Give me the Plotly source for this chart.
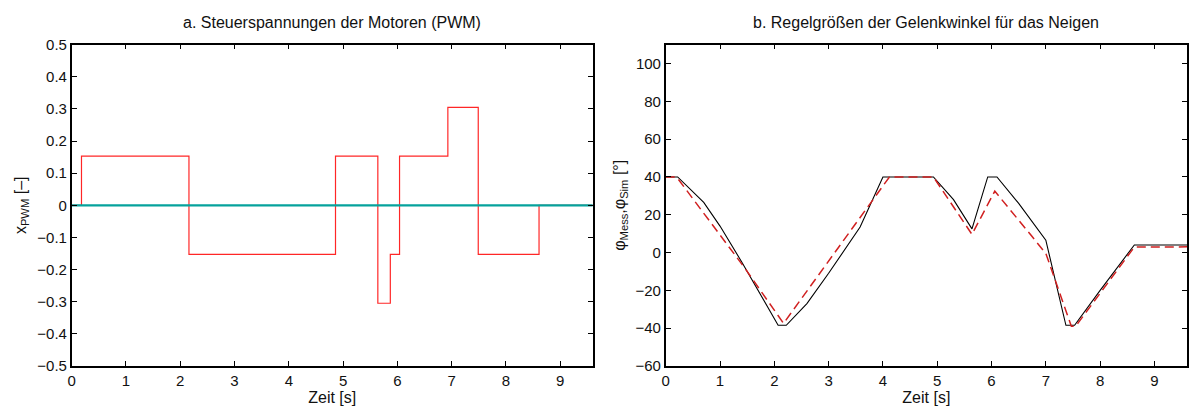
import plotly.graph_objects as go

# --- a. PWM control voltages (step signal) ---
pwm_t = [0.0, 0.18, 2.16, 4.86, 5.64, 5.87, 6.04, 6.93, 7.49, 8.61, 9.6]
pwm_v = [0.0, 0.153, -0.153, 0.153, -0.305, -0.153, 0.153, 0.305, -0.153, 0.0, 0.0]
zero_t = [0.0, 9.6]
zero_v = [0.0, 0.0]

# --- b. joint angle, measured (solid) and simulated (dashed) ---
mess_t = [0.0, 0.22, 0.7, 1.0, 1.4, 1.85, 2.07, 2.22, 2.6, 3.0, 3.58, 4.0, 4.93, 5.3,
          5.64, 5.93, 6.1, 6.5, 7.0, 7.37, 7.53, 8.0, 8.63, 9.6]
mess_v = [40, 40, 26.5, 14, -5, -27.5, -38.5, -38.5, -27, -11, 13.5, 40, 40, 28,
          12.5, 40, 40, 26, 6.5, -38.5, -38.5, -20, 4, 4]
sim_t = [0.0, 0.2, 1.45, 2.17, 4.12, 4.93, 5.64, 6.06, 6.74, 7.0, 7.47, 7.55, 8.63, 9.6]
sim_v = [40, 40, -8, -37.5, 40, 40, 9.6, 32.5, 8.7, -0.5, -39, -39, 2.9, 3]

x_ticks = list(range(0, 10))
y1_ticks = [round(-0.5 + 0.1 * i, 1) for i in range(11)]
y1_text = [("0" if v == 0 else f"{v:.1f}".replace("-", "\u2212")) for v in y1_ticks]
y2_ticks = list(range(-60, 101, 20))
y2_text = [str(v).replace("-", "\u2212") for v in y2_ticks]

FONT = "Liberation Sans, Arial, sans-serif"
TICK_SIZE = 15
LABEL_SIZE = 16

fig = go.Figure()
fig.add_trace(go.Scatter(x=pwm_t, y=pwm_v, mode="lines", line_shape="hv",
                         line=dict(color="rgba(255,0,0,0.85)", width=1.2),
                         xaxis="x", yaxis="y", showlegend=False))
fig.add_trace(go.Scatter(x=zero_t, y=zero_v, mode="lines",
                         line=dict(color="#06a29c", width=2.2),
                         xaxis="x", yaxis="y", showlegend=False))
fig.add_trace(go.Scatter(x=mess_t, y=mess_v, mode="lines",
                         line=dict(color="black", width=1.1),
                         xaxis="x2", yaxis="y2", showlegend=False))
fig.add_trace(go.Scatter(x=sim_t, y=sim_v, mode="lines",
                         line=dict(color="#d02020", width=1.5, dash="9px,5px"),
                         xaxis="x2", yaxis="y2", showlegend=False))

axis_common = dict(showline=True, linecolor="black", linewidth=1.6, mirror="ticks",
                   ticks="inside", ticklen=5, tickcolor="black", tickwidth=1,
                   showgrid=False, zeroline=False,
                   tickfont=dict(family=FONT, size=TICK_SIZE, color="#111"))

fig.update_layout(
    width=1192, height=418,
    paper_bgcolor="white", plot_bgcolor="white",
    margin=dict(l=0, r=0, t=0, b=0),
    font=dict(family=FONT, size=TICK_SIZE, color="#111"),
    xaxis=dict(domain=[0.057, 0.4956], range=[0, 9.6], tickvals=x_ticks,
               title=dict(text="Zeit [s]", standoff=3, font=dict(size=LABEL_SIZE)),
               anchor="y", **axis_common),
    yaxis=dict(domain=[0.11, 0.911], range=[-0.5, 0.5], tickvals=y1_ticks, ticktext=y1_text,
               title=dict(text="x<sub>PWM</sub> [\u2013]", standoff=7, font=dict(size=LABEL_SIZE)),
               anchor="x", **axis_common),
    xaxis2=dict(domain=[0.557, 0.9958], range=[0, 9.6], tickvals=x_ticks,
                title=dict(text="Zeit [s]", standoff=3, font=dict(size=LABEL_SIZE)),
                anchor="y2", **axis_common),
    yaxis2=dict(domain=[0.11, 0.911], range=[-60, 110], tickvals=y2_ticks, ticktext=y2_text,
                title=dict(text="\u03c6<sub>Mess</sub>,\u03c6<sub>Sim</sub> [\u00b0]", standoff=6,
                           font=dict(size=LABEL_SIZE)),
                anchor="x2", **axis_common),
    annotations=[
        dict(text="a. Steuerspannungen der Motoren (PWM)", xref="paper", yref="paper",
             x=(0.057 + 0.4956) / 2, y=1 - 14 / 418, xanchor="center", yanchor="middle",
             showarrow=False, font=dict(family=FONT, size=LABEL_SIZE, color="#111")),
        dict(text="b. Regelgrößen der Gelenkwinkel für das Neigen", xref="paper", yref="paper",
             x=(0.557 + 0.9958) / 2, y=1 - 14 / 418, xanchor="center", yanchor="middle",
             showarrow=False, font=dict(family=FONT, size=LABEL_SIZE, color="#111")),
    ],
)

fig.write_html("out.html")
